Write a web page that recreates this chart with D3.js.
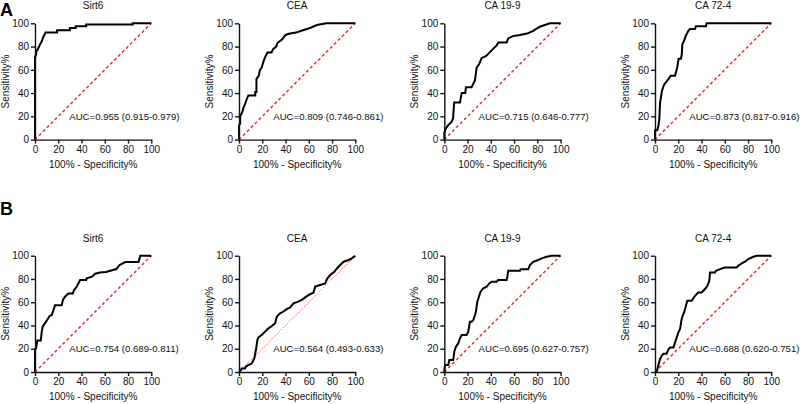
<!DOCTYPE html>
<html><head><meta charset="utf-8">
<script src="https://cdn.jsdelivr.net/npm/d3@7"></script>
<style>
html,body{margin:0;padding:0;background:#fff;}
svg{display:block;font-family:"Liberation Sans",Arial,sans-serif;}
</style></head>
<body>
<svg id="chart" width="800" height="404"></svg>
<script>
// ---------- data ----------
const rowLabels = ["A", "B"];
const markers = ["Sirt6", "CEA", "CA 19-9", "CA 72-4"];
const xTicks = [0, 20, 40, 60, 80, 100];
const yTicks = [0, 20, 40, 60, 80, 100];
const xTitle = "100% - Specificity%";
const yTitle = "Sensitivity%";

const aucA = ["AUC=0.955 (0.915-0.979)", "AUC=0.809 (0.746-0.861)", "AUC=0.715 (0.646-0.777)", "AUC=0.873 (0.817-0.916)"];
const aucB = ["AUC=0.754 (0.689-0.811)", "AUC=0.564 (0.493-0.633)", "AUC=0.695 (0.627-0.757)", "AUC=0.688 (0.620-0.751)"];

// ROC points: [100% - specificity, sensitivity]
const rocA_Sirt6 = [[0,0],[0,71],[1,73],[1,76],[2,77],[3,79],[4,81],[5,83],[6,85],[7,88],[8,90],[9,92],[19,92],[19,94],[30,94],[30,96],[35,96],[35,97.5],[44,97.5],[44,99],[84,99],[84,100],[100,100]];
const rocA_CEA = [[0,0],[0,12],[1,14],[1,20],[2,22],[3,24],[4,28],[5,30],[6,33],[8,38],[14,38],[14,41],[15,41],[15,52],[17,55],[18,60],[19.5,62],[21,67],[22.5,71],[24.5,75],[28,75],[29.5,78],[32,80],[33,83],[37,86],[40,90],[43,91],[49,92],[55,94],[61,96],[67,98.5],[75,100],[100,100]];
const rocA_CA199 = [[0,0],[0,6],[1,9],[3,12],[6,15],[7.5,18],[8.5,32],[13.5,32],[14,35],[15,40],[18,40],[18.6,45],[23.5,45],[24.4,47],[26.4,51],[27.8,62],[30,65],[32,70],[36,72],[39,75],[42,78],[45,81],[46.4,83.5],[53.6,83.5],[55,87],[59,89],[65,90],[72,91.5],[76.5,93.5],[79.4,95.5],[82,97],[86.5,98.5],[90.8,100],[100,100]];
const rocA_CA724 = [[0,0],[0,8],[2,8],[3,12],[3.7,18],[4.3,31],[5.2,37],[6,42],[7.7,47],[10,50],[11.5,52],[13.5,55],[17.2,55],[18,58],[19.2,62.5],[20.3,69.5],[22.3,69.5],[23,73],[23.5,82],[25,85],[26.6,89.5],[28.7,93.5],[30,95],[34.4,95],[35.2,97.5],[43.8,97.5],[44.4,100],[100,100]];

const rocB_Sirt6 = [[0,0],[0,19],[1,21],[2,27],[5,27],[5.7,34],[6.6,39],[8.6,42],[10.6,45],[12.4,48],[14.4,49],[15.8,53],[17.2,57.5],[23,57.5],[24,62],[26,65],[28.7,67.5],[32.5,67.5],[33.6,70.5],[36,73.5],[38.8,79],[44,79],[44.5,80.5],[49,82],[51.7,84.5],[56,85.5],[61,86],[70,88.5],[72.7,92],[77.6,94.5],[89,94.5],[90.5,100],[100,100]];
const rocB_CEA = [[0,0],[1.7,1.7],[2.3,3],[5.2,3],[6,4.6],[8,6],[11,7.4],[13.2,11.7],[14.7,20],[15.8,27.5],[16.7,29.8],[19.5,31.8],[22.4,34.7],[25.3,37.5],[28.2,39.5],[31,41.8],[32.5,47.6],[35.3,50.4],[38.2,52],[41,54],[44,55.6],[46.8,59],[51,60.5],[54,62],[57.8,64.8],[61.2,67],[64,68.2],[65.5,73.4],[69.8,74.8],[74,76.2],[76,80.5],[78.4,83.4],[82,86.2],[84.2,89],[87,92],[90,94.8],[94.3,96.3],[97,97.7],[100,100]];
const rocB_CA199 = [[0,0],[0,1],[0.6,6],[3.4,6],[4.3,10.3],[7.7,10.3],[8.6,17.5],[10,21.8],[12,24.6],[13.5,29],[14.9,31.8],[19.2,31.8],[20.6,34.7],[22,43.3],[23.5,43.3],[25,44.7],[26.4,49],[27.2,52],[28.4,60.5],[29.8,64.8],[31.2,69],[33.5,72],[36.4,73.4],[38.7,76.2],[40.7,77.7],[45,77.7],[46.4,79],[53.6,79],[54.2,82],[55,87],[65,87],[65.6,88.3],[72.2,88.3],[73.6,92],[76.5,94.8],[80.8,96.3],[83.7,97.7],[88,99.1],[92.3,100],[100,100]];
const rocB_CA724 = [[0,0],[1.4,0],[4.3,11],[5.7,13.8],[7.2,15.8],[10,15.8],[11.5,19.5],[12.9,21],[15.8,21],[17.2,25.3],[18.6,29.6],[20,33.9],[21.5,36.8],[22.9,45.4],[23.8,48.3],[24.9,51],[26.6,56.9],[27.8,61.2],[31.5,61.2],[32.4,62.6],[34.4,65.5],[37.2,68.4],[40.1,68.4],[43,71.3],[45,74],[46.7,78.4],[47.3,85.6],[51.6,85.6],[52.4,87.1],[55.9,88.5],[60.2,89.9],[70.2,89.9],[71.6,91.4],[74.5,93.4],[77.4,94.8],[80.2,97.1],[84.5,99.1],[87.4,100],[100,100]];

const rocA = [rocA_Sirt6, rocA_CEA, rocA_CA199, rocA_CA724];
const rocB = [rocB_Sirt6, rocB_CEA, rocB_CA199, rocB_CA724];
const aucTextPos = [29.5, 20];

// ---------- layout ----------
const svg = d3.select("#chart");
svg.append("rect").attr("width", 800).attr("height", 404).attr("fill", "#fff");
const panelLeft = [35, 239, 444.3, 655];
const rowTop = [23.3, 255.7];
const pw = 116.3, ph = 116.3;
const fontSize = 10;

const rows = [
  {label: rowLabels[0], roc: rocA, auc: aucA, labelY: 16},
  {label: rowLabels[1], roc: rocB, auc: aucB, labelY: 215}
];

rows.forEach((row, ri) => {
  svg.append("text").attr("x", 0).attr("y", row.labelY)
    .attr("font-size", 18).attr("font-weight", "bold").attr("fill", "#000")
    .text(row.label);

  markers.forEach((m, ci) => {
    const g = svg.append("g").attr("transform", `translate(${panelLeft[ci]},${rowTop[ri]})`);
    const x = d3.scaleLinear().domain([0, 100]).range([0, pw]);
    const y = d3.scaleLinear().domain([0, 100]).range([ph, 0]);

    // title
    g.append("text").attr("x", pw / 2).attr("y", -14)
      .attr("text-anchor", "middle").attr("font-size", fontSize).attr("fill", "#111")
      .text(m);

    // diagonal reference line
    const thin = (ri === 1 && ci === 1);
    g.append("line")
      .attr("x1", x(0)).attr("y1", y(0)).attr("x2", x(100)).attr("y2", y(100))
      .attr("stroke", thin ? "#f0505a" : "#e8202a")
      .attr("stroke-width", thin ? 0.8 : 1.4)
      .attr("stroke-dasharray", thin ? "1.5,1.2" : "3,2.6");

    // ROC curve
    const line = d3.line().x(d => x(d[0])).y(d => y(d[1]));
    g.append("path").datum(row.roc[ci])
      .attr("d", line).attr("fill", "none")
      .attr("stroke", "#000").attr("stroke-width", 2)
      .attr("stroke-linejoin", "miter");

    // axes
    const xa = g.append("g").attr("transform", `translate(0,${ph})`)
      .call(d3.axisBottom(x).tickValues(xTicks).tickSize(4).tickPadding(2).tickSizeOuter(0));
    const ya = g.append("g")
      .call(d3.axisLeft(y).tickValues(yTicks).tickSize(4).tickPadding(2).tickSizeOuter(0));
    [xa, ya].forEach(a => {
      a.select(".domain").attr("stroke", "#111").attr("stroke-width", 1.4);
      a.selectAll(".tick line").attr("stroke", "#111").attr("stroke-width", 1.4);
      a.selectAll(".tick text").attr("font-size", fontSize).attr("fill", "#111")
        .attr("font-family", "Liberation Sans, Arial, sans-serif");
    });

    // axis titles
    g.append("text").attr("x", pw / 2).attr("y", ph + 28)
      .attr("text-anchor", "middle").attr("font-size", fontSize).attr("fill", "#111")
      .text(xTitle);
    g.append("text")
      .attr("transform", `translate(-26,${ph / 2}) rotate(-90)`)
      .attr("text-anchor", "middle").attr("font-size", fontSize).attr("fill", "#111")
      .text(yTitle);

    // AUC label
    g.append("text").attr("x", x(aucTextPos[0])).attr("y", y(aucTextPos[1]))
      .attr("dy", "0.35em").attr("font-size", 9.6).attr("fill", "#111")
      .text(row.auc[ci]);
  });
});
</script>
</body></html>
